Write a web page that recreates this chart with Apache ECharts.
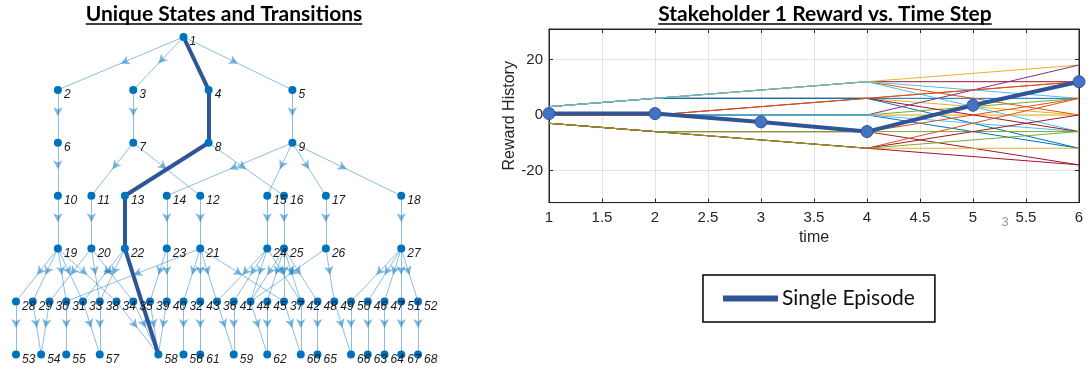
<!DOCTYPE html>
<html>
<head>
<meta charset="utf-8">
<script src="https://cdn.jsdelivr.net/npm/echarts@6/dist/echarts.min.js"></script>
<style>
html, body { margin: 0; background: #fff; }
#main { width: 1090px; height: 370px; }
</style>
</head>
<body>
<div id="main"></div>
<script>
// ==== state graph data ====
// states in each layer, left to right
const layers = [
	["1"],
	["2", "3", "4", "5"],
	["6", "7", "8", "9"],
	["10", "11", "13", "14", "12", "15", "16", "17", "18"],
	["19", "20", "22", "23", "21", "24", "25", "26", "27"],
	["28", "29", "30", "31", "33", "38", "34", "35", "39", "40", "32", "43", "36",
	 "41", "44", "45", "37", "42", "48", "49", "50", "46", "47", "51", "52"],
	["53", "54", "55", "57", "58", "56", "61", "59", "62", "60", "65", "66", "63", "64", "67", "68"],
];
// column slot of each state (same order as layers)
const layerSlots = [
	[10],
	[2.5, 7, 11.5, 16.5],
	[2.5, 7, 11.5, 16.5],
	[2.5, 4.5, 6.5, 9, 11, 15, 16, 18.5, 23],
	[2.5, 4.5, 6.5, 9, 11, 15, 16, 18.5, 23],
	[0, 1, 2, 3, 4, 5, 6, 7, 8, 9, 10, 11, 12, 13, 14, 15, 16, 17, 18, 19, 20, 21, 22, 23, 24],
	[0, 1.5, 3, 5, 8.5, 10, 11, 13, 15, 17, 18, 20, 21, 22, 23, 24],
];
const transitions = [
	["1", "2"], ["1", "3"], ["1", "5"],
	["2", "6"], ["3", "7"], ["5", "9"],
	["6", "10"], ["7", "11"], ["7", "12"], ["8", "16"], ["9", "14"], ["9", "15"], ["9", "17"], ["9", "18"],
	["10", "19"], ["11", "20"], ["14", "23"], ["12", "21"], ["15", "24"], ["16", "25"], ["17", "26"], ["18", "27"],
	["19", "28"], ["19", "29"], ["19", "31"], ["19", "33"], ["19", "34"],
	["20", "30"], ["20", "38"], ["20", "35"],
	["22", "33"], ["22", "38"],
	["23", "40"], ["23", "39"],
	["21", "31"], ["21", "32"], ["21", "43"], ["21", "36"], ["21", "37"],
	["24", "36"], ["24", "41"], ["24", "44"], ["24", "42"],
	["25", "45"], ["25", "37"], ["25", "42"], ["25", "48"], ["25", "44"],
	["26", "44"], ["26", "49"],
	["27", "50"], ["27", "46"], ["27", "47"], ["27", "51"], ["27", "52"],
	["28", "53"], ["29", "54"], ["30", "54"], ["31", "55"], ["33", "57"], ["38", "57"],
	["34", "58"], ["35", "58"], ["39", "58"], ["40", "58"], ["32", "56"], ["43", "61"],
	["36", "59"], ["41", "59"], ["44", "62"], ["45", "62"], ["37", "60"], ["42", "60"], ["48", "65"],
	["49", "66"], ["50", "66"], ["46", "63"], ["47", "64"], ["51", "67"], ["52", "68"],
];
const episodePath = ["1", "4", "8", "13", "22", "58"];

// ==== reward data ====
const timeSteps = [1, 2, 3, 4, 5, 6];
const episodeReward = [0.5, 0.5, -2.5, -6, 3.5, 12];
const otherRewards = [
	[3, 6, 6, 6, 9, 12],
	[3, 6, 6, 6, 3, 0],
	[3, 6, 6, 6, -3, -12],
	[3, 6, 6, 6, 6, 6],
	[3, 6, 9, 12, 12, 12],
	[3, 6, 9, 12, 6, 0],
	[3, 6, 9, 12, 9, 6],
	[3, 6, 9, 12, 15, 18],
	[3, 6, 9, 12, 3, -6],
	[0, 0, 0, 0, 9, 18],
	[0, 0, 0, 0, 3, 6],
	[0, 0, 0, 0, 0, 0],
	[0, 0, 0, 0, -6, -12],
	[0, 0, 0, 0, -3, -6],
	[0, 0, 3, 6, 0, -6],
	[0, 0, 3, 6, 9, 12],
	[-3, -6, -6, -6, 3, 12],
	[-3, -6, -6, -6, 0, 6],
	[-3, -6, -6, -6, -12, -18],
	[-3, -6, -6, -6, -6, -6],
	[-3, -6, -9, -12, -3, 6],
	[-3, -6, -9, -12, -6, 0],
	[-3, -6, -9, -12, -12, -12],
	[-3, -6, -9, -12, -15, -18],
	[-3, -6, -9, -12, -9, -6],
];
const yTicks = [-20, 0, 20];

// MATLAB default line colours, one per episode above
const episodeColors = [
	"#D95319", "#EDB120", "#0072BD", "#0072BD",
	"#A2142F", "#D95319", "#4DBEEE", "#EDB120", "#4DBEEE",
	"#7E2F8E", "#77AC30", "#EDB120", "#0072BD", "#4DBEEE",
	"#A2142F", "#D95319",
	"#7E2F8E", "#D95319", "#A2142F", "#77AC30",
	"#D95319", "#A2142F", "#EDB120", "#A2142F", "#77AC30",
];
const pathColor = "#2F5597";

var chartDom = document.getElementById("main");
var chart = echarts.init(chartDom, null, { renderer: "canvas" });

const pos = {};
const nodes = [];
layers.forEach((names, li) => {
	names.forEach((n, k) => {
		pos[n] = [layerSlots[li][k], li];
		nodes.push({ name: n, value: pos[n] });
	});
});

const links = transitions.map(([s, t]) => ({ source: s, target: t }));
for (let i = 0; i < episodePath.length - 1; i++) {
	links.push({
		source: episodePath[i],
		target: episodePath[i + 1],
		lineStyle: { width: 4, color: pathColor, opacity: 1 },
	});
}

function measure(text, font) {
	const ctx = document.createElement("canvas").getContext("2d");
	ctx.font = font;
	return ctx.measureText(text).width;
}

const titleFont = "bold 21px Lato";
function titleGraphic(text, cx) {
	const w = measure(text, titleFont);
	return [
		{
			type: "text",
			x: cx, y: 14,
			style: { text: text, font: titleFont, fill: "#000", align: "center", verticalAlign: "middle" },
		},
		{
			type: "line",
			shape: { x1: cx - w / 2, y1: 24, x2: cx + w / 2, y2: 24 },
			style: { stroke: "#000", lineWidth: 1.5 },
		},
	];
}

const axisColor = "#262626";
const labelFont = "Liberation Sans";

var option = {
	animation: false,
	grid: [
		{ left: 16, top: 37, width: 402, height: 317.4 },
		{ left: 549, top: 29, width: 530, height: 173.6, show: true, borderColor: axisColor, borderWidth: 1 },
	],
	xAxis: [
		{ gridIndex: 0, type: "value", min: 0, max: 24, show: false },
		{
			gridIndex: 1, type: "value", min: 1, max: 6, interval: 0.5,
			name: "time", nameLocation: "middle", nameGap: 27,
			nameTextStyle: { fontFamily: labelFont, fontSize: 16, color: axisColor },
			axisLine: { onZero: false, lineStyle: { color: axisColor } },
			axisTick: { inside: true, length: 4, lineStyle: { color: axisColor } },
			axisLabel: { fontFamily: labelFont, fontSize: 15, color: axisColor, margin: 8 },
			splitLine: { lineStyle: { color: "#e3e3e3" } },
		},
		{
			gridIndex: 1, type: "value", min: 1, max: 6, interval: 0.5, position: "top",
			axisLine: { onZero: false, lineStyle: { color: axisColor } },
			axisTick: { inside: true, length: 4, lineStyle: { color: axisColor } },
			axisLabel: { show: false },
			splitLine: { show: false },
		},
	],
	yAxis: [
		{ gridIndex: 0, type: "value", min: 0, max: 6, inverse: true, show: false },
		{
			gridIndex: 1, type: "value", min: -31.6, max: 31,
			name: "Reward History", nameLocation: "middle", nameGap: 30,
			nameTextStyle: { fontFamily: labelFont, fontSize: 16, color: axisColor },
			axisLine: { show: true, onZero: false, lineStyle: { color: axisColor } },
			axisTick: { inside: true, length: 4, customValues: yTicks, lineStyle: { color: axisColor } },
			axisLabel: { customValues: yTicks, fontFamily: labelFont, fontSize: 15, color: axisColor, margin: 6 },
			splitLine: { show: true, lineStyle: { color: "#e3e3e3" } },
		},
		{
			gridIndex: 1, type: "value", min: -31.6, max: 31, position: "right",
			axisLine: { show: true, onZero: false, lineStyle: { color: axisColor } },
			axisTick: { inside: true, length: 4, customValues: yTicks, lineStyle: { color: axisColor } },
			axisLabel: { show: false },
			splitLine: { show: false },
		},
	],
	legend: {
		data: [{ name: "Single Episode", icon: "rect", itemStyle: { color: pathColor } }],
		left: 703, top: 275,
		padding: [13, 20, 13, 20],
		borderColor: "#000", borderWidth: 1.5,
		itemWidth: 53, itemHeight: 4,
		selectedMode: false,
		textStyle: { fontFamily: "Lato", fontSize: 21, color: "#111" },
	},
	graphic: [
		...titleGraphic("Unique States and Transitions", 224),
		...titleGraphic("Stakeholder 1 Reward vs. Time Step", 825),
		{
			type: "text", x: 1005, y: 222,
			style: { text: "3", font: "13px Liberation Sans", fill: "#999", align: "center", verticalAlign: "middle" },
		},
	],
	series: [
		{
			type: "graph",
			coordinateSystem: "cartesian2d",
			xAxisIndex: 0, yAxisIndex: 0,
			symbolSize: 8,
			itemStyle: { color: "#0072BD" },
			label: {
				show: true, position: "right", distance: 2, offset: [0, 5],
				formatter: "{b}", fontFamily: labelFont, fontSize: 12, fontStyle: "italic", color: "#1a1a1a",
			},
			lineStyle: { color: "#0072BD", opacity: 0.45, width: 1 },
			data: nodes,
			links: links,
			silent: true,
			z: 3,
		},
		...otherRewards.map((vals, i) => ({
			type: "line",
			xAxisIndex: 1, yAxisIndex: 1,
			data: timeSteps.map((t, k) => [t, vals[k]]),
			showSymbol: false,
			lineStyle: { width: 1, color: episodeColors[i], opacity: 1 },
			silent: true,
			z: 2,
		})),
		{
			name: "Single Episode",
			type: "line",
			xAxisIndex: 1, yAxisIndex: 1,
			data: timeSteps.map((t, k) => [t, episodeReward[k]]),
			symbol: "circle", symbolSize: 12,
			lineStyle: { width: 4, color: pathColor },
			itemStyle: { color: "#4472C4", borderColor: pathColor, borderWidth: 1 },
			clip: false,
			silent: true,
			z: 5,
		},
	],
};

option && chart.setOption(option);

// arrow heads half way along each transition, like MATLAB's digraph plot
const arrowData = transitions.map(([s, t]) => {
	const a = chart.convertToPixel({ gridIndex: 0 }, pos[s]);
	const b = chart.convertToPixel({ gridIndex: 0 }, pos[t]);
	const angle = (Math.atan2(-(b[0] - a[0]), -(b[1] - a[1])) * 180) / Math.PI;
	return {
		value: [(pos[s][0] + pos[t][0]) / 2, (pos[s][1] + pos[t][1]) / 2],
		symbolRotate: angle,
	};
});

chart.setOption({
	series: option.series.concat([
		{
			type: "scatter",
			xAxisIndex: 0, yAxisIndex: 0,
			symbol: "arrow",
			symbolSize: [7, 9],
			itemStyle: { color: "#0072BD", opacity: 0.5 },
			data: arrowData,
			silent: true,
			z: 2,
		},
	]),
});
</script>
</body>
</html>
